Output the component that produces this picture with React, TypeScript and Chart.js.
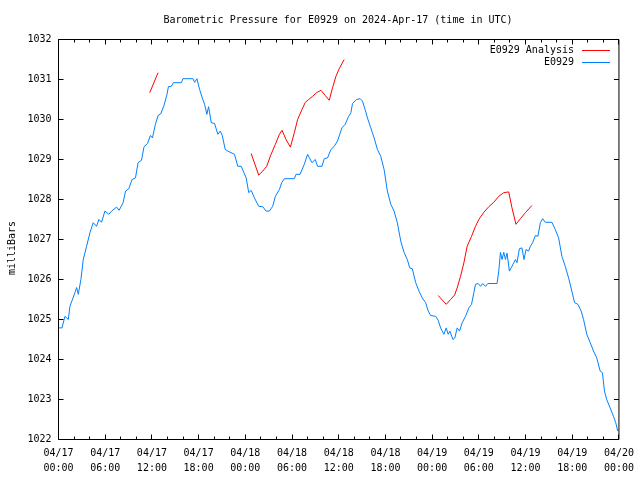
import React, { useEffect, useRef } from "react";
import { Chart, registerables } from "chart.js";

Chart.register(...registerables);

// Hours since 2024-04-17 00:00 UTC
const obsHours = [
  0, 0.45, 0.83, 1.26, 1.47, 2.11, 2.33, 2.54, 2.88, 3.18, 3.61, 4.04, 4.46, 4.89, 5.19, 5.53,
  5.96, 6.47, 6.82, 7.46, 7.79, 8.3, 8.61, 9.03, 9.45, 9.89, 10.22, 10.66, 10.99, 11.43, 11.81,
  12.07, 12.45, 12.79, 13.13, 13.55, 13.94, 14.12, 14.5, 14.76, 15.78, 15.99, 17.27, 17.49,
  17.78, 18.13, 18.47, 18.77, 19.06, 19.28, 19.63, 20.05, 20.47, 20.78, 21.04, 21.42, 21.75,
  22.61, 23.03, 23.47, 24.11, 24.44, 24.75, 25.17, 25.72, 26.24, 26.67, 27.09, 27.52, 27.86,
  28.38, 28.67, 29.02, 30.3, 30.52, 31.03, 31.58, 32.0, 32.56, 32.99, 33.28, 33.85, 34.14,
  34.56, 35.0, 35.42, 35.84, 36.41, 36.83, 37.25, 37.56, 37.77, 38.28, 38.75, 39.05, 39.39,
  39.69, 40.12, 40.55, 40.97, 41.4, 41.83, 42.25, 42.69, 43.11, 43.53, 43.97, 44.39, 44.81,
  45.12, 45.45, 45.89, 46.31, 46.73, 47.17, 47.5, 47.81, 48.45, 48.78, 49.09, 49.51, 49.81,
  50.06, 50.28, 50.67, 50.92, 51.22, 51.52, 51.86, 52.29, 52.72, 53.06, 53.36, 53.57, 53.91,
  54.22, 54.51, 54.86, 55.15, 56.34, 56.56, 56.78, 56.98, 57.2, 57.42, 57.62, 57.93, 58.26,
  58.7, 58.9, 59.21, 59.54, 59.8, 60.06, 60.4, 60.62, 60.91, 61.26, 61.59, 61.9, 62.2, 62.54,
  63.39, 63.82, 64.25, 64.67, 65.1, 65.53, 65.95, 66.3, 66.72, 67.15, 67.45, 67.87, 68.31,
  68.73, 69.15, 69.59, 69.88, 70.14, 70.43, 70.87, 71.29, 71.59, 71.84,
];
const obsPressure = [
  1024.79, 1024.79, 1025.08, 1025.0, 1025.33, 1025.67, 1025.8, 1025.63, 1026.0, 1026.5,
  1026.83, 1027.17, 1027.42, 1027.33, 1027.5, 1027.43, 1027.71, 1027.63, 1027.71, 1027.81,
  1027.73, 1027.92, 1028.21, 1028.27, 1028.5, 1028.54, 1028.92, 1028.98, 1029.32, 1029.4,
  1029.6, 1029.54, 1029.88, 1030.1, 1030.14, 1030.35, 1030.63, 1030.82, 1030.83, 1030.92,
  1030.92, 1031.02, 1031.02, 1030.93, 1031.02, 1030.75, 1030.54, 1030.38, 1030.13, 1030.32,
  1029.92, 1029.9, 1029.63, 1029.71, 1029.6, 1029.25, 1029.21, 1029.13, 1028.83, 1028.83,
  1028.54, 1028.17, 1028.23, 1028.04, 1027.83, 1027.82, 1027.71, 1027.71, 1027.83, 1028.08,
  1028.25, 1028.42, 1028.52, 1028.52, 1028.63, 1028.63, 1028.88, 1029.13, 1028.92, 1029.0,
  1028.83, 1028.83, 1029.02, 1029.04, 1029.25, 1029.33, 1029.46, 1029.79, 1029.88, 1030.07,
  1030.17, 1030.4, 1030.5, 1030.52, 1030.46, 1030.25, 1030.04, 1029.79, 1029.54, 1029.25,
  1029.08, 1028.75, 1028.21, 1027.88, 1027.71, 1027.42, 1026.96, 1026.68, 1026.5, 1026.29,
  1026.27, 1025.92, 1025.71, 1025.54, 1025.42, 1025.21, 1025.1, 1025.08, 1024.98, 1024.79,
  1024.63, 1024.79, 1024.63, 1024.71, 1024.5, 1024.54, 1024.79, 1024.71, 1024.92, 1025.08,
  1025.29, 1025.38, 1025.67, 1025.88, 1025.9, 1025.83, 1025.9, 1025.83, 1025.9, 1025.9,
  1026.21, 1026.68, 1026.5, 1026.68, 1026.5, 1026.66, 1026.21, 1026.33, 1026.5, 1026.42,
  1026.77, 1026.79, 1026.5, 1026.75, 1026.71, 1026.83, 1026.92, 1027.1, 1027.08, 1027.42,
  1027.52, 1027.43, 1027.43, 1027.25, 1027.04, 1026.58, 1026.33, 1026.04, 1025.71, 1025.42,
  1025.38, 1025.21, 1025.0, 1024.63, 1024.42, 1024.21, 1024.04, 1023.71, 1023.67, 1023.21,
  1023.0, 1022.79, 1022.58, 1022.42, 1022.21,
];

// Analysis series (null = gap between runs)
const anaHours = [
  11.72, 12.79, 18.0,
  24.75, 25.72, 26.24, 26.75, 27.31, 27.86, 28.38, 28.72, 29.23, 29.79, 30.3, 30.72, 31.28,
  31.71, 32.13, 32.64, 33.15, 33.72, 34.27, 34.78, 35.2, 35.64, 36.06, 36.7, 42.0,
  48.78, 49.81, 50.37, 50.88, 51.22, 51.65, 52.08, 52.5, 53.06, 53.57, 54.0, 54.64, 55.28,
  55.92, 56.56, 57.2, 57.84, 58.26, 58.77, 59.34, 59.98, 60.82,
];
const anaPressure = [
  1030.67, 1031.17, null,
  1029.15, 1028.61, 1028.71, 1028.83, 1029.13, 1029.38, 1029.63, 1029.73, 1029.5, 1029.31,
  1029.67, 1030.0, 1030.25, 1030.43, 1030.5, 1030.58, 1030.67, 1030.73, 1030.6, 1030.48,
  1030.79, 1031.08, 1031.27, 1031.5, null,
  1025.6, 1025.38, 1025.5, 1025.61, 1025.79, 1026.08, 1026.42, 1026.83, 1027.08, 1027.33,
  1027.5, 1027.68, 1027.82, 1027.93, 1028.08, 1028.17, 1028.19, 1027.79, 1027.38, 1027.52,
  1027.67, 1027.85,
];

const xTickLabels = [
  ["04/17", "00:00"], ["04/17", "06:00"], ["04/17", "12:00"], ["04/17", "18:00"],
  ["04/18", "00:00"], ["04/18", "06:00"], ["04/18", "12:00"], ["04/18", "18:00"],
  ["04/19", "00:00"], ["04/19", "06:00"], ["04/19", "12:00"], ["04/19", "18:00"],
  ["04/20", "00:00"],
];
const yTickLabels = ["1022", "1023", "1024", "1025", "1026", "1027", "1028", "1029", "1030", "1031", "1032"];

const titleText = "Barometric Pressure for E0929 on 2024-Apr-17 (time in UTC)";
const yAxisLabel = "milliBars";
const seriesNames = ["E0929 Analysis", "E0929"];
const seriesColors = ["#ff0000", "#0080ff"];

const FONT = "10px 'DejaVu Sans Mono', 'Liberation Mono', monospace";

const decorPlugin = {
  id: "gnuplotDecor",
  afterDraw(chart: any) {
    const { ctx, chartArea: a, scales } = chart;
    const xs = scales.x;
    const ys = scales.y;
    const snap = (v: number) => Math.round(v - 0.5) + 0.5;
    ctx.save();
    ctx.strokeStyle = "#000";
    ctx.lineWidth = 1;
    ctx.beginPath();
    ctx.rect(a.left, a.top, a.right - a.left, a.bottom - a.top);
    // x ticks: minor every 2h, major every 6h, mirrored on top
    for (let h = 0; h <= 72; h += 2) {
      const px = snap(xs.getPixelForValue(h));
      const len = h % 6 === 0 ? 5 : 3;
      ctx.moveTo(px, a.bottom);
      ctx.lineTo(px, a.bottom - len);
      ctx.moveTo(px, a.top);
      ctx.lineTo(px, a.top + len);
    }
    for (let i = 0; i < yTickLabels.length; i++) {
      const py = snap(ys.getPixelForValue(Number(yTickLabels[i])));
      ctx.moveTo(a.left, py);
      ctx.lineTo(a.left + 5, py);
      ctx.moveTo(a.right, py);
      ctx.lineTo(a.right - 5, py);
    }
    ctx.stroke();

    ctx.fillStyle = "#000";
    ctx.font = FONT;
    ctx.textBaseline = "middle";
    ctx.textAlign = "center";
    ctx.fillText(titleText, 338, 20);

    ctx.save();
    ctx.translate(12, 248);
    ctx.rotate(-Math.PI / 2);
    ctx.fillText(yAxisLabel, 0, 0);
    ctx.restore();

    // legend (gnuplot style, top right inside plot)
    ctx.textAlign = "right";
    for (let i = 0; i < seriesNames.length; i++) {
      const ty = 50 + i * 12.5;
      ctx.fillStyle = "#000";
      ctx.fillText(seriesNames[i], 574, ty);
      ctx.strokeStyle = seriesColors[i];
      ctx.beginPath();
      ctx.moveTo(582, Math.round(ty - 0.5) + 0.5);
      ctx.lineTo(610, Math.round(ty - 0.5) + 0.5);
      ctx.stroke();
    }
    ctx.restore();
  },
};

export default function App() {
  const ref = useRef<HTMLCanvasElement | null>(null);

  useEffect(() => {
    document.body.style.margin = "0";
    const canvas = ref.current;
    if (!canvas) return;
    const obsData = obsHours.map((h, i) => ({ x: h, y: obsPressure[i] }));
    const anaData = anaHours.map((h, i) => ({ x: h, y: anaPressure[i] }));
    const tickFont = { family: "'DejaVu Sans Mono', 'Liberation Mono', monospace", size: 10, lineHeight: 1.5 };

    const chart = new Chart(canvas, {
      type: "line",
      data: {
        datasets: [
          {
            label: seriesNames[0],
            data: anaData as any,
            borderColor: seriesColors[0],
            borderWidth: 1,
            pointRadius: 0,
            tension: 0,
            spanGaps: false,
            fill: false,
          },
          {
            label: seriesNames[1],
            data: obsData,
            borderColor: seriesColors[1],
            borderWidth: 1,
            pointRadius: 0,
            tension: 0,
            fill: false,
          },
        ],
      },
      options: {
        responsive: false,
        animation: false,
        devicePixelRatio: 1,
        parsing: false as any,
        layout: { padding: { top: 39.5, right: 19.5, left: 0, bottom: 0 } },
        plugins: {
          legend: { display: false },
          title: { display: false },
          tooltip: { enabled: false },
        },
        scales: {
          x: {
            type: "linear",
            min: 0,
            max: 72,
            grid: { display: false, drawTicks: false },
            border: { display: false },
            afterFit: (s: any) => {
              s.height = 40.5;
            },
            afterBuildTicks: (s: any) => {
              s.ticks = xTickLabels.map((_, i) => ({ value: i * 6 }));
            },
            ticks: {
              autoSkip: false,
              maxRotation: 0,
              minRotation: 0,
              padding: 6,
              color: "#000",
              font: tickFont,
              callback: (v: any) => xTickLabels[Math.round(Number(v) / 6)],
            },
          },
          y: {
            type: "linear",
            min: 1022,
            max: 1032,
            grid: { display: false, drawTicks: false },
            border: { display: false },
            afterFit: (s: any) => {
              s.width = 58.5;
            },
            afterBuildTicks: (s: any) => {
              s.ticks = yTickLabels.map((t) => ({ value: Number(t) }));
            },
            ticks: {
              padding: 7,
              color: "#000",
              font: { ...tickFont, lineHeight: 1.2 },
              callback: (v: any) => yTickLabels[Math.round(Number(v) - 1022)],
            },
          },
        },
      },
      plugins: [decorPlugin],
    });
    return () => chart.destroy();
  }, []);

  return <canvas ref={ref} width={640} height={480} style={{ display: "block" }} />;
}
